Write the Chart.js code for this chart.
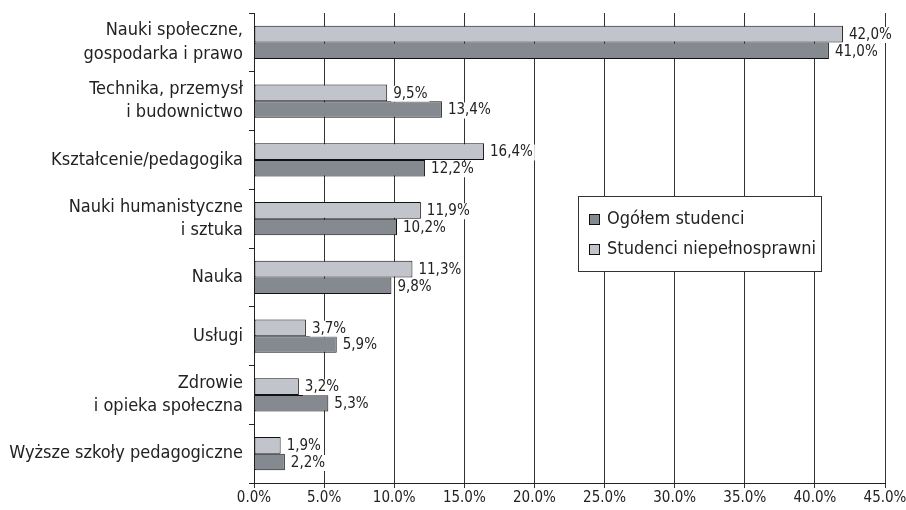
<!DOCTYPE html>
<html>
<head>
<meta charset="utf-8">
<script src="https://cdn.jsdelivr.net/npm/chart.js@4"></script>
<style>
  html, body { margin: 0; padding: 0; background: #fff; }
  #wrap { width: 906px; height: 510px; }
</style>
</head>
<body>
<div id="wrap"><canvas id="wykres" width="906" height="510"></canvas></div>
<script>
const kategorie = [
  ['Nauki społeczne,', 'gospodarka i prawo'],
  ['Technika, przemysł', 'i budownictwo'],
  'Kształcenie/pedagogika',
  ['Nauki humanistyczne', 'i sztuka'],
  'Nauka',
  'Usługi',
  ['Zdrowie', 'i opieka społeczna'],
  'Wyższe szkoły pedagogiczne'
];
const niepelnosprawni = [42.0, 9.5, 16.4, 11.9, 11.3, 3.7, 3.2, 1.9];
const ogolem = [41.0, 13.4, 12.2, 10.2, 9.8, 5.9, 5.3, 2.2];
const xTicks = [0, 5, 10, 15, 20, 25, 30, 35, 40, 45];

const FONT = "'Liberation Sans Narrow', 'DejaVu Sans Condensed', 'Roboto', sans-serif";
const JASNY = '#c1c4ca';
const CIEMNY = '#858a90';

// etykiety przy slupkach (z bialym tlem)
const etykiety = {
  id: 'etykiety',
  afterDatasetsDraw(chart) {
    const ctx = chart.ctx;
    ctx.save();
    ctx.font = '15px ' + FONT;
    ctx.textBaseline = 'middle';
    ctx.textAlign = 'left';
    chart.data.datasets.forEach((ds, i) => {
      const meta = chart.getDatasetMeta(i);
      meta.data.forEach((bar, j) => {
        const txt = ds.data[j].toFixed(1).replace('.', ',') + '%';
        const w = ctx.measureText(txt).width;
        const x = bar.x + 4;
        const y = bar.y + 1;
        ctx.fillStyle = '#fff';
        ctx.fillRect(x, y - 8, w + 4, 16);
        ctx.fillStyle = '#222';
        ctx.fillText(txt, x + 2, y);
      });
    });
    ctx.restore();
  }
};

// legenda wewnatrz wykresu
const legenda = {
  id: 'legenda',
  afterDraw(chart) {
    const ctx = chart.ctx;
    const x0 = 578, y0 = 196, w = 243, h = 75;
    ctx.save();
    ctx.fillStyle = '#fff';
    ctx.fillRect(x0, y0, w, h);
    ctx.strokeStyle = '#333';
    ctx.lineWidth = 1;
    ctx.strokeRect(x0 + 0.5, y0 + 0.5, w, h);
    const pozycje = [1, 0];
    ctx.font = '18px ' + FONT;
    ctx.textBaseline = 'middle';
    pozycje.forEach((idx, k) => {
      const ds = chart.data.datasets[idx];
      const cy = y0 + 23 + k * 30;
      ctx.fillStyle = ds.backgroundColor;
      ctx.fillRect(x0 + 11, cy - 5, 11, 11);
      ctx.strokeStyle = '#111';
      ctx.strokeRect(x0 + 11.5, cy - 4.5, 10, 10);
      ctx.fillStyle = '#222';
      ctx.fillText(ds.label, x0 + 29, cy);
    });
    ctx.restore();
  }
};

new Chart(document.getElementById('wykres'), {
  type: 'bar',
  data: {
    labels: kategorie,
    datasets: [
      {
        label: 'Studenci niepełnosprawni',
        data: niepelnosprawni,
        backgroundColor: JASNY,
        borderColor: '#111',
        borderWidth: 1,
        borderSkipped: false
      },
      {
        label: 'Ogółem studenci',
        data: ogolem,
        backgroundColor: CIEMNY,
        borderColor: '#111',
        borderWidth: 1,
        borderSkipped: false
      }
    ]
  },
  options: {
    indexAxis: 'y',
    responsive: false,
    animation: false,
    devicePixelRatio: 1,
    layout: { padding: { top: 13, right: 21, left: 0, bottom: 0 } },
    datasets: { bar: { categoryPercentage: 0.57, barPercentage: 1.0 } },
    plugins: {
      legend: { display: false },
      tooltip: { enabled: false }
    },
    scales: {
      x: {
        min: 0,
        max: 45,
        afterBuildTicks(scale) { scale.ticks = xTicks.map(v => ({ value: v })); },
        afterFit(scale) { scale.height = 27; scale.paddingLeft = 0; scale.paddingRight = 0; },
        border: { color: '#222', width: 1 },
        grid: { color: '#333', lineWidth: 1, tickLength: 5 },
        ticks: {
          font: { family: FONT, size: 15 },
          color: '#222',
          padding: 1,
          maxRotation: 0,
          callback: v => v.toFixed(1) + '%'
        }
      },
      y: {
        afterFit(scale) { scale.width = 254; scale.paddingTop = 0; scale.paddingBottom = 0; },
        border: { color: '#222', width: 1 },
        grid: { drawOnChartArea: false, color: '#222', tickLength: 5 },
        ticks: {
          font: { family: FONT, size: 18, lineHeight: 1.3 },
          color: '#222',
          padding: 6
        }
      }
    }
  },
  plugins: [etykiety, legenda]
});
</script>
</body>
</html>
